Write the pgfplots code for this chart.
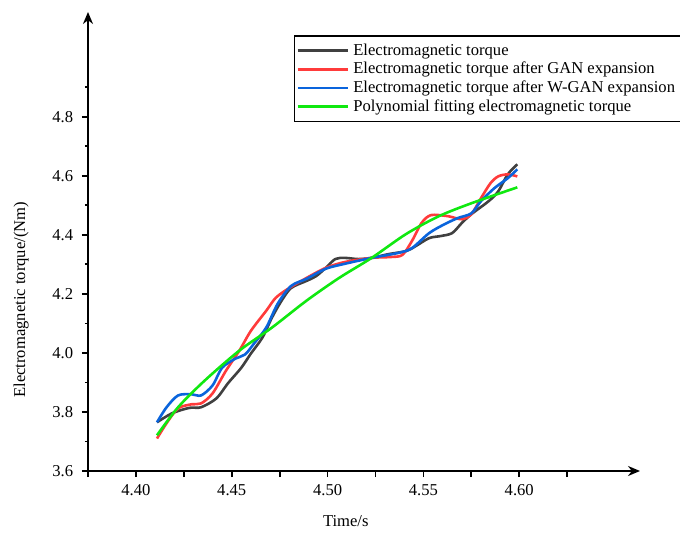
\documentclass[border=0pt]{standalone}
\usepackage{pgfplots}
\pgfplotsset{compat=1.18}
\usetikzlibrary{arrows.meta}
\usepackage{fontspec}
\setmainfont{Liberation Serif}
\definecolor{cblack}{HTML}{404040}
\definecolor{cred}{HTML}{FF3B3B}
\definecolor{cblue}{HTML}{0A64DC}
\definecolor{cgreen}{HTML}{10E810}
\begin{document}
\fontsize{8.3}{10}\selectfont
\begin{tikzpicture}
\useasboundingbox (-44pt,-32.5pt) rectangle (296pt,235.5pt);
\begin{axis}[
  scale only axis, width=276pt, height=229.5pt,
  xmin=4.375, xmax=4.663, ymin=3.6, ymax=5.155,
  axis lines=left,
  axis line style={line width=1pt, -{Stealth[length=6pt,width=5pt]}},
  tick align=outside,
  tick style={line width=0.9pt, black},
  major tick length=3pt, minor tick length=1.5pt,
  xtick={4.375,4.40,4.425,4.45,4.475,4.50,4.525,4.55,4.575,4.60,4.625},
  xticklabels={,4.40,,4.45,,4.50,,4.55,,4.60,},
  ytick={3.6,3.8,4.0,4.2,4.4,4.6,4.8},
  yticklabels={3.6,3.8,4.0,4.2,4.4,4.6,4.8},
  minor ytick={3.7,3.9,4.1,4.3,4.5,4.7,4.9},
  ticklabel style={font=\fontsize{8.3}{10}\selectfont},
  xticklabel style={yshift=-1pt},
  yticklabel style={xshift=-1.5pt},
  xlabel={Time/s},
  ylabel={Electromagnetic torque/(Nm)},
  label style={font=\fontsize{8.3}{10}\selectfont},
  every axis x label/.style={at={(axis description cs:0.467,-0.109)}, anchor=center},
  every axis y label/.style={at={(axis description cs:-0.121,0.373)}, anchor=center, rotate=90},
  legend style={at={(axis description cs:0.373,0.95)}, anchor=north west,
    draw=black, line width=0.8pt, font=\fontsize{8.3}{10}\selectfont,
    inner xsep=1pt, inner ysep=2pt, row sep=-1.8pt,
    cells={anchor=west}},
  legend cell align=left,
  legend image code/.code={\draw[#1, line width=1.3pt] (0pt,0pt) -- (19pt,0pt); \path (0pt,0pt) -- (25pt,0pt);},
  every axis plot/.append style={line width=1.3pt, smooth, tension=0.5, no marks},
]
\addplot[cblack] coordinates {
(4.411,3.765)(4.419,3.796)(4.428,3.814)(4.434,3.816)(4.442,3.846)(4.448,3.897)
(4.455,3.95)(4.460,3.998)(4.466,4.052)(4.471,4.12)(4.476,4.177)(4.481,4.22)
(4.489,4.244)(4.494,4.26)(4.499,4.288)(4.504,4.318)(4.509,4.322)(4.516,4.318)
(4.523,4.322)(4.532,4.335)(4.541,4.345)(4.546,4.362)(4.553,4.389)(4.559,4.396)
(4.565,4.406)(4.570,4.44)(4.575,4.47)(4.584,4.514)(4.589,4.547)(4.594,4.605)(4.599,4.639)};
\addlegendentry{Electromagnetic torque}
\addplot[cred] coordinates {
(4.411,3.71)(4.416,3.762)(4.422,3.812)(4.429,3.826)(4.434,3.829)(4.440,3.863)
(4.447,3.94)(4.454,4.008)(4.460,4.075)(4.468,4.143)(4.473,4.187)(4.480,4.22)
(4.489,4.254)(4.499,4.288)(4.509,4.308)(4.523,4.322)(4.533,4.325)(4.539,4.332)
(4.544,4.379)(4.549,4.44)(4.554,4.467)(4.563,4.463)(4.570,4.453)(4.575,4.47)
(4.580,4.524)(4.585,4.575)(4.589,4.598)(4.594,4.605)(4.599,4.598)};
\addlegendentry{Electromagnetic torque after GAN expansion}
\addplot[cblue] coordinates {
(4.411,3.765)(4.416,3.816)(4.422,3.856)(4.429,3.86)(4.434,3.856)(4.440,3.89)
(4.445,3.95)(4.452,3.981)(4.457,3.995)(4.462,4.035)(4.468,4.086)(4.474,4.167)
(4.481,4.227)(4.489,4.251)(4.499,4.285)(4.509,4.302)(4.523,4.322)(4.537,4.339)
(4.544,4.355)(4.553,4.406)(4.561,4.436)(4.568,4.457)(4.575,4.473)(4.580,4.514)
(4.587,4.558)(4.594,4.592)(4.599,4.622)};
\addlegendentry{Electromagnetic torque after W-GAN expansion}
\addplot[cgreen] coordinates {
(4.411,3.721)(4.422,3.816)(4.436,3.907)(4.454,4.008)(4.471,4.086)(4.489,4.177)
(4.506,4.254)(4.523,4.322)(4.541,4.403)(4.558,4.463)(4.575,4.507)(4.599,4.561)};
\addlegendentry{Polynomial fitting electromagnetic torque}
\end{axis}
\end{tikzpicture}
\end{document}
